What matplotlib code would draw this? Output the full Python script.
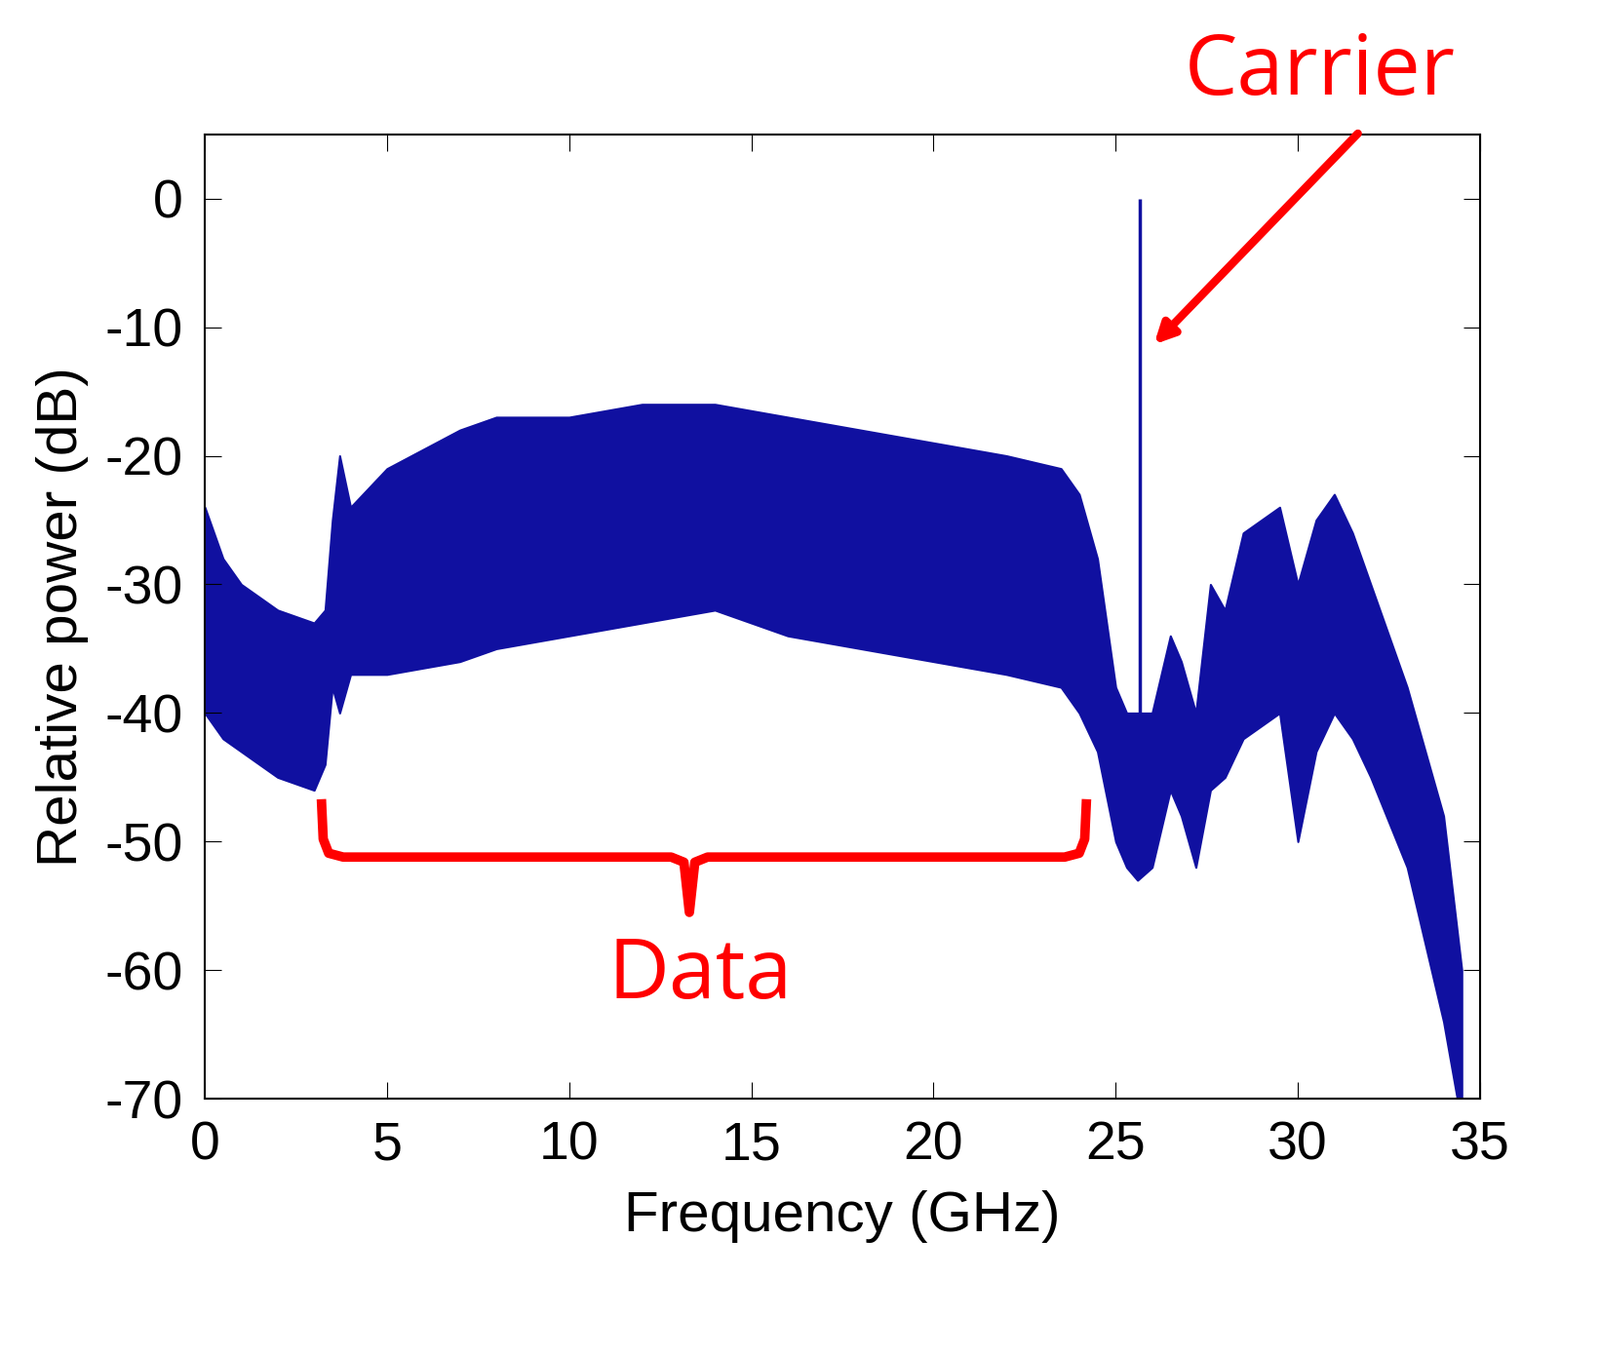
import matplotlib
matplotlib.use("Agg")
import matplotlib.pyplot as plt
import numpy as np
plt.rcParams["axes.unicode_minus"] = False
plt.rcParams["font.family"] = "Liberation Sans"

freq = [0,0.5,1,2,3,3.3,3.5,3.7,4,5,7,8,10,12,14,16,18,20,22,23.5,24,24.5,25,25.3,25.6,26,26.5,26.8,27.2,27.6,28,28.5,29.5,30,30.5,31,31.5,32,33,34,34.5]
upper = [-24,-28,-30,-32,-33,-32,-25,-20,-24,-21,-18,-17,-17,-16,-16,-17,-18,-19,-20,-21,-23,-28,-38,-40,-40,-40,-34,-36,-40,-30,-32,-26,-24,-30,-25,-23,-26,-30,-38,-48,-60]
lower = [-40,-42,-43,-45,-46,-44,-38,-40,-37,-37,-36,-35,-34,-33,-32,-34,-35,-36,-37,-38,-40,-43,-50,-52,-53,-52,-46,-48,-52,-46,-45,-42,-40,-50,-43,-40,-42,-45,-52,-64,-72]
carrier_f = 25.65
carrier_p = 0

blue = "#1010a0"
fig = plt.figure(figsize=(16.41, 13.9), dpi=100)
ax = fig.add_axes([0.128, 0.189, 0.797, 0.712])
ax.fill_between(freq, lower, upper, color=blue, lw=1.5, edgecolor=blue)
ax.vlines(carrier_f, -45, carrier_p, color=blue, lw=2.5)
ax.set_xlim(0, 35)
ax.set_ylim(-70, 5)
ax.set_xticks(range(0, 36, 5))
ax.set_yticks(range(-70, 1, 10))
ax.tick_params(direction="in", top=True, right=True, length=12, labelsize=40, pad=16)
for s in ax.spines.values():
    s.set_linewidth(1.5)
ax.set_xlabel("Frequency (GHz)", fontsize=42, labelpad=14)
ax.set_ylabel("Relative power (dB)", fontsize=42, labelpad=12)

red = "#ff0000"
bx = [3.2, 3.25, 3.4, 3.8, 12.8, 13.15, 13.3, 13.45, 13.8, 23.6, 24.0, 24.15, 24.2]
by = [-46.7, -49.8, -50.9, -51.2, -51.2, -51.6, -55.5, -51.6, -51.2, -51.2, -50.9, -49.8, -46.7]
ax.plot(bx, by, color=red, lw=7, solid_joinstyle="round", solid_capstyle="butt")
ax.text(13.6, -60.5, "Data", color=red, fontsize=62, ha="center", va="center", family="Open Sans")
ax.annotate("", xy=(26.0, -11.5), xytext=(31.7, 5.2),
            arrowprops=dict(arrowstyle="-|>,head_width=0.6,head_length=1.2", color=red, lw=6),
            annotation_clip=False)
ax.text(30.6, 9.8, "Carrier", color=red, fontsize=62, ha="center", va="center", family="Open Sans", clip_on=False)
fig.savefig("out.png", dpi=100)
